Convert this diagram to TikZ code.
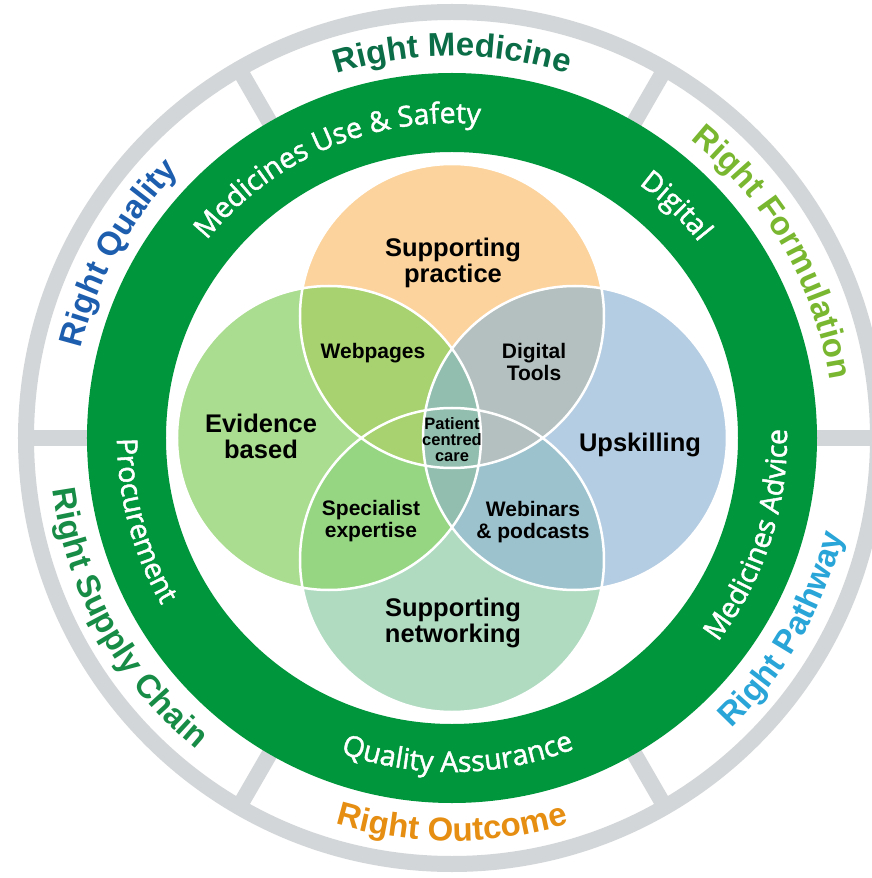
\documentclass[tikz,border=0pt]{standalone}
\usepackage{fontspec}
\setmainfont{Liberation Sans}
\newfontfamily\ringfont[FakeBold=1.6]{Open Sans}
\usetikzlibrary{decorations.text}
\definecolor{GREEN_RING}{HTML}{00963C}
\definecolor{GRAY_RING}{HTML}{D3D6D8}
\definecolor{ORANGE_C}{HTML}{FCD39C}
\definecolor{GREEN_C}{HTML}{AADD8F}
\definecolor{BLUE_C}{HTML}{B5CDE2}
\definecolor{MINT_C}{HTML}{B0DBC1}
\definecolor{OLIVE_I}{HTML}{A8D26F}
\definecolor{GRAY_I}{HTML}{B4BFBF}
\definecolor{LEAF_I}{HTML}{96D683}
\definecolor{TEAL_I}{HTML}{9CC2CE}
\definecolor{CORE_I}{HTML}{92BEAF}
\definecolor{MEDICINE}{HTML}{0A6D47}
\definecolor{FORMULATION}{HTML}{7AB730}
\definecolor{PATHWAY}{HTML}{29A5D8}
\definecolor{OUTCOME}{HTML}{E58E12}
\definecolor{SUPPLY}{HTML}{178C46}
\definecolor{QUALITY}{HTML}{1E5EAE}
\tikzset{
	every node/.style = {align=center, inner sep=0pt, font=\bfseries},
	bigtext/.style = {font=\bfseries\fontsize{25.5}{26}\selectfont},
	midtext/.style = {font=\bfseries\fontsize{21}{22}\selectfont},
	smalltext/.style = {font=\bfseries\fontsize{16.5}{16}\selectfont}
}
% clockwise arc: letters stand outwards
\newcommand{\toplabel}[5]{%
	\path[decorate, decoration={text along path, text align=center, text color=#4, text={#5}}]
	({#1+#2}:#3) arc[start angle={#1+#2}, end angle={#1-#2}, radius=#3];}
% anticlockwise arc: letters stand inwards
\newcommand{\bottomlabel}[5]{%
	\path[decorate, decoration={text along path, text align=center, text color=#4, text={#5}}]
	({#1-#2}:#3) arc[start angle={#1-#2}, end angle={#1+#2}, radius=#3];}
\newcommand{\outerfont}{\bfseries\fontsize{33}{33}\selectfont}
\newcommand{\bandfont}{\ringfont\fontsize{28.5}{29}\selectfont}

\begin{document}
\begin{tikzpicture}[x=1pt, y=1pt]
		\path[use as bounding box, fill=white] (-452,-440) rectangle (419,438);
		% grey ring and spokes
		\foreach \a in {0,60,...,300}
			\draw[GRAY_RING, line width=16] (\a:350) -- (\a:426);
		\draw[GRAY_RING, line width=16] (0,0) circle (426);
		% green band
		\fill[GREEN_RING, even odd rule] (0,0) circle (365) circle (286);
		% circle centres
		\coordinate (T) at (0,122);
		\coordinate (L) at (-123,0);
		\coordinate (R) at (123,0);
		\coordinate (B) at (0,-122);
		% base circles
		\fill[ORANGE_C] (T) circle (152);
		\fill[GREEN_C] (L) circle (152);
		\fill[BLUE_C] (R) circle (152);
		\fill[MINT_C] (B) circle (152);
		% bottom overlaps
		\scope
		\clip (B) circle (152);
		\fill[LEAF_I] (L) circle (152);
		\fill[TEAL_I] (R) circle (152);
		\endscope
		% top overlaps
		\scope
		\clip (T) circle (152);
		\fill[OLIVE_I] (L) circle (152);
		\fill[GRAY_I] (R) circle (152);
		\endscope
		% middle lens
		\scope
		\clip (L) circle (152);
		\fill[CORE_I] (R) circle (152);
		\endscope
		% outline
		\draw[white, line width=2.5] (T) circle (152) (L) circle (152)
		      (R) circle (152) (B) circle (152);
		% labels
		\node[bigtext] (practice) at (1,175) {Supporting\\practice};
		\node[bigtext] (evidence) at (-191,2) {Evidence\\based};
		\node[bigtext] (upskill) at (188,-7) {Upskilling};
		\node[bigtext] (network) at (1,-185) {Supporting\\networking};
		\node[midtext] (webpages) at (-79,85) {Webpages};
		\node[midtext] (tools) at (82,76) {Digital\\Tools};
		\node[midtext] (expertise) at (-81,-83) {Specialist\\expertise};
		\node[midtext] (webinars) at (81,-84) {Webinars\\\& podcasts};
		\node[smalltext] (patient) at (0,-2) {Patient\\centred\\care};
		% green band texts
		\toplabel{113}{50}{315}{white}{|\bandfont|Medicines Use {\&} Safety}
		\toplabel{46}{30}{315}{white}{|\bandfont|Digital}
		\bottomlabel{-18}{40}{335}{white}{|\bandfont|Medicines Advice}
		\bottomlabel{-89}{40}{334}{white}{|\bandfont|Quality Assurance}
		\bottomlabel{-165}{40}{335}{white}{|\bandfont|Procurement}
		% outer texts
		\toplabel{90}{30}{382}{MEDICINE}{|\outerfont|Right Medicine}
		\toplabel{30}{30}{382}{FORMULATION}{|\outerfont|Right Formulation}
		\toplabel{151}{30}{382}{QUALITY}{|\outerfont|Right Quality}
		\bottomlabel{-30}{30}{403}{PATHWAY}{|\outerfont|Right Pathway}
		\bottomlabel{-90}{30}{403}{OUTCOME}{|\outerfont|Right Outcome}
		\bottomlabel{-151}{30}{403}{SUPPLY}{|\outerfont|Right Supply Chain}
	\end{tikzpicture}
\end{document}
